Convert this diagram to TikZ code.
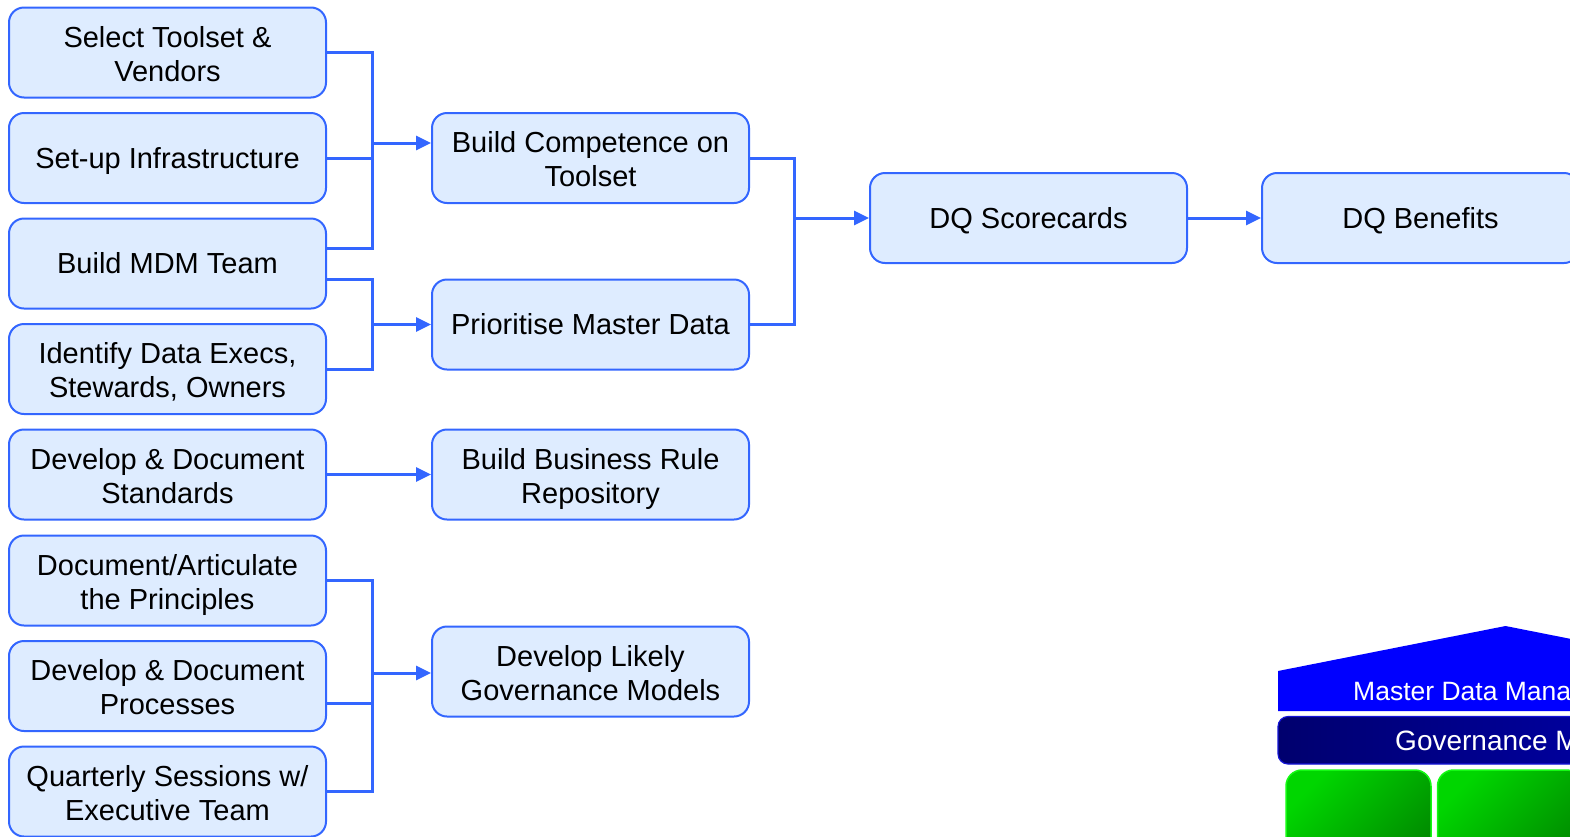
\documentclass[tikz,border=0pt]{standalone}
\usepackage{fontspec}
\setmainfont{Liberation Sans}
\usetikzlibrary{arrows.meta}
\definecolor{boxfill}{RGB}{222,236,255}
\definecolor{boxline}{RGB}{51,102,255}
\definecolor{roofblue}{RGB}{0,0,255}
\definecolor{navyA}{RGB}{0,0,110}
\definecolor{navyB}{RGB}{0,0,180}
\definecolor{navyedge}{RGB}{20,20,215}
\definecolor{greenA}{RGB}{0,214,0}
\definecolor{greenB}{RGB}{0,128,0}
\definecolor{greenedge}{RGB}{20,250,20}
% line strut with the ascent/descent of the font, so text sits centred like a slide box
\newcommand{\boxstrut}{\rule[-6.2pt]{0pt}{32.4pt}}
% two centred lines, balanced the same way
\newcommand{\twoline}[2]{\begin{tabular}{@{}c@{}}\rule{0pt}{34pt}#1\\#2\end{tabular}}
\begin{document}
\begin{tikzpicture}[x=1pt,y=-1pt,
  task/.style={draw=boxline, line width=2pt, fill=boxfill, rounded corners=15pt,
    minimum width=317pt, minimum height=90pt, inner sep=0pt,
    font=\fontsize{29}{34}\selectfont, execute at begin node=\boxstrut},
  link/.style={draw=boxline, line width=3pt},
  arr/.style={link, -{Triangle[length=15pt,width=14pt]}}]
\useasboundingbox (0,0) rectangle (1570,836);
\clip (0,0) rectangle (1570,836);

% left column of activities
\node[task] (b1) at (167.5,52.5) {\twoline{Select Toolset \&}{Vendors}};
\node[task] (b2) at (167.5,158) {Set-up Infrastructure};
\node[task] (b3) at (167.5,263.5) {Build MDM Team};
\node[task] (b4) at (167.5,369) {\twoline{Identify Data Execs,}{Stewards, Owners}};
\node[task] (b5) at (167.5,474.5) {\twoline{Develop \& Document}{Standards}};
\node[task] (b6) at (167.5,580.5) {\twoline{Document/Articulate}{the Principles}};
\node[task] (b7) at (167.5,686) {\twoline{Develop \& Document}{Processes}};
\node[task] (b8) at (167.5,791.5) {\twoline{Quarterly Sessions w/}{Executive Team}};

% middle column
\node[task] (m1) at (590.5,158) {\twoline{Build Competence on}{Toolset}};
\node[task] (m2) at (590.5,324.5) {Prioritise Master Data};
\node[task] (m3) at (590.5,474.5) {\twoline{Build Business Rule}{Repository}};
\node[task] (m4) at (590.5,671.5) {\twoline{Develop Likely}{Governance Models}};

% outcomes
\node[task] (dq) at (1028.5,218) {DQ Scorecards};
\node[task] (ben) at (1420.5,218) {DQ Benefits};

% junction points of the bracket connectors
\coordinate (j1) at (372,143);
\coordinate (k1) at (372,248);
\coordinate (k2) at (372,279);
\coordinate (j2) at (372,324.5);
\coordinate (j3) at (794,218);
\coordinate (j4) at (372,673);
\coordinate (k7) at (372,703.5);

% toolset / infrastructure / team -> competence
\draw[link] (b1.east) -| (k1) -- (k1 -| b3.east);
\draw[link] (b2.east) -- (b2.east -| j1);
\draw[arr] (j1) -- (j1 -| m1.west);

% team / owners -> prioritise
\draw[link] (k2 -| b3.east) -- (k2) |- (b4.east);
\draw[arr] (j2) -- (m2.west);

% competence / prioritise -> scorecards
\draw[link] (m1.east) -| (j3 |- m2.east) -- (m2.east);
\draw[arr] (j3) -- (dq.west);
\draw[arr] (dq.east) -- (ben.west);

% standards -> repository
\draw[arr] (b5.east) -- (m3.west);

% principles / processes / sessions -> governance models
\draw[link] (b6.east) -| (j4 |- b8.east) -- (b8.east);
\draw[link] (k7 -| b7.east) -- (k7);
\draw[arr] (j4) -- (j4 -| m4.west);

% MDM house
\fill[roofblue] (1278,711) -- (1278,671) -- (1505.5,626) -- (1733,671) -- (1733,711) -- cycle;
\node[anchor=base west, text=white, inner sep=0pt, font=\fontsize{26.5}{30}\selectfont]
  (mdm) at (1353,700.5) {Master Data Management};
\draw[draw=navyedge, line width=1.2pt, rounded corners=10pt,
  left color=navyA, right color=navyB] (1278,716.5) rectangle (1733,764);
\node[anchor=base west, text=white, inner sep=0pt, font=\fontsize{28}{32}\selectfont]
  (gov) at (1395,750.5) {Governance Model};
\draw[draw=greenedge, line width=1.5pt, rounded corners=16pt,
  top color=greenA, bottom color=greenB, shading angle=45] (1286,770) rectangle (1431,900);
\draw[draw=greenedge, line width=1.5pt, rounded corners=16pt,
  top color=greenA, bottom color=greenB, shading angle=45] (1437.5,770) rectangle (1582.5,900);
\end{tikzpicture}
\end{document}
